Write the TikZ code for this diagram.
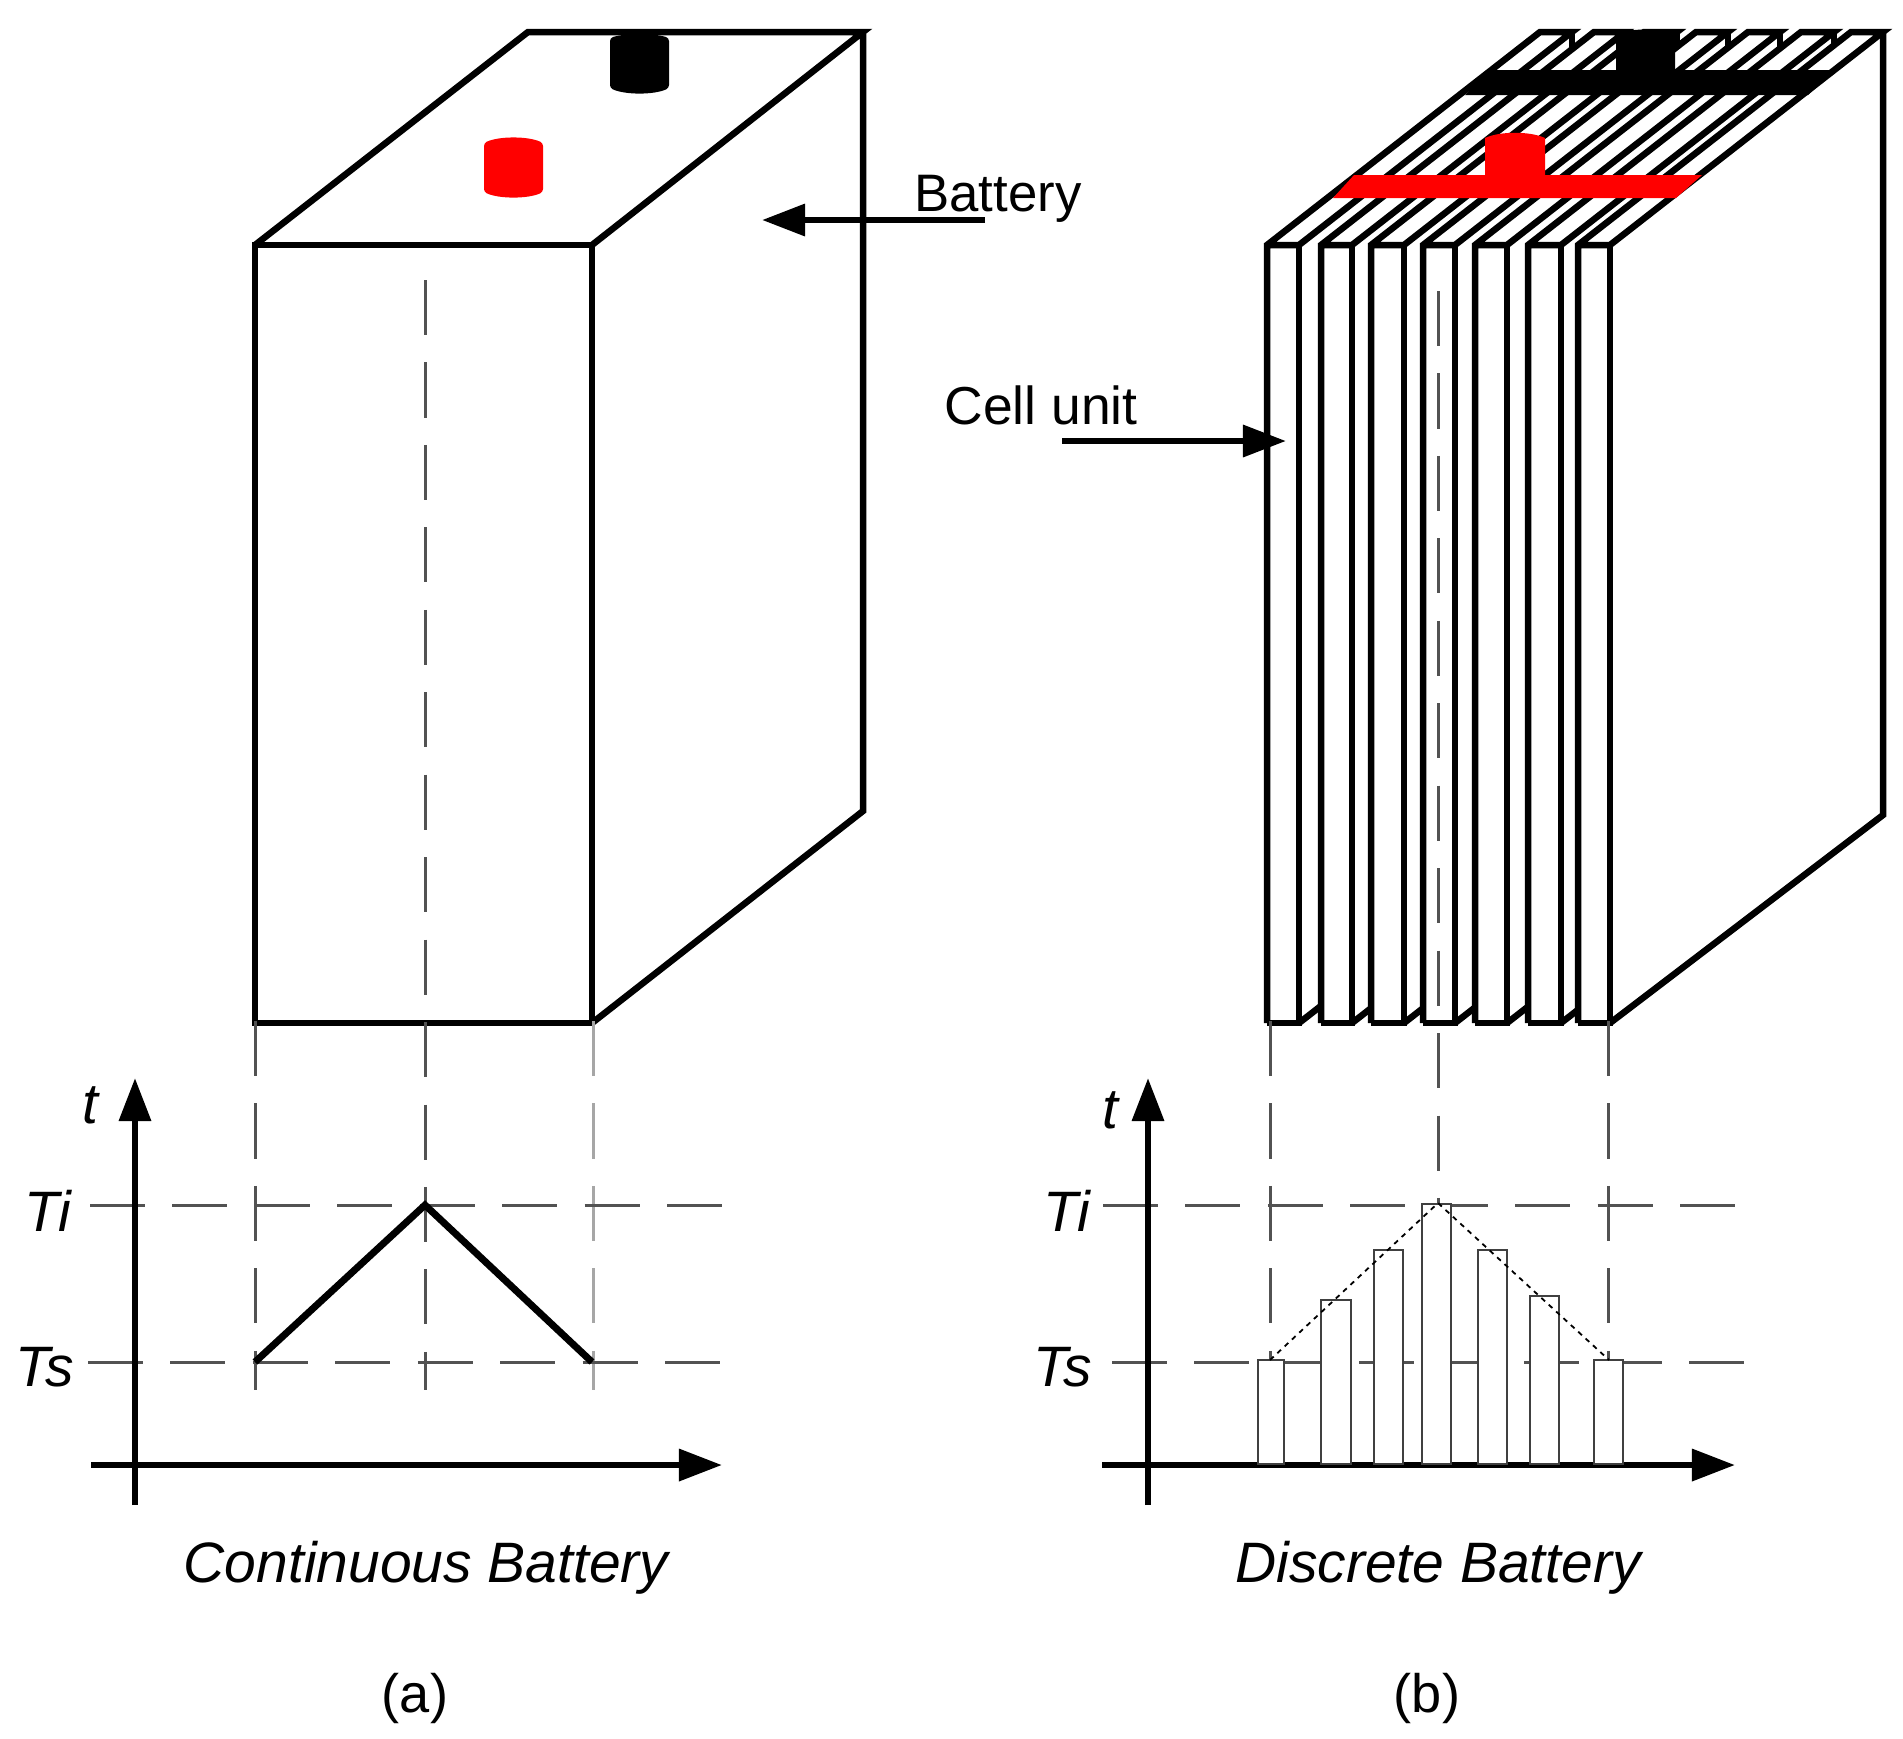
\documentclass[tikz,border=0pt]{standalone}
\usepackage{fontspec}
\setmainfont{Liberation Sans}
\usetikzlibrary{arrows.meta}
\tikzset{
  edge/.style={line width=.065cm, line join=miter},
  guide/.style={line width=.03cm, draw=black!68, dash pattern=on .55cm off .274cm},
  guidelight/.style={guide, draw=black!35},
  axis/.style={line width=.065cm, -{Triangle[length=.43cm, width=.31cm]}},
  bar/.style={line width=.028cm, draw=black!75, fill=white},
  peak/.style={line width=.07cm, line join=miter},
  lbl/.style={font=\fontsize{16.2}{19}\selectfont, inner sep=0},
  lblit/.style={lbl, font=\fontsize{16.2}{19}\selectfont\itshape},
  sub/.style={lbl, font=\fontsize{15.4}{19}\selectfont},
}
\begin{document}
\begin{tikzpicture}[x=.01cm, y=-.01cm]
\useasboundingbox (0,0) rectangle (1903,1738);
% continuous battery
\draw[edge] (255,245)--(592,245)--(592,1023)--(255,1023)--cycle;
\draw[edge] (255,245)--(528,32)--(863,32)--(592,245) (863,32)--(863,811)--(592,1023);
\fill[rounded corners=.03cm] (610,38) .. controls (625,33) and (654,33) .. (669,38)--(669,88) .. controls (654,95) and (625,95) .. (610,88)--cycle;
\fill[red, rounded corners=.03cm] (484,143) .. controls (499,136) and (528,136) .. (543,143)--(543,192) .. controls (528,199) and (499,199) .. (484,192)--cycle;
\draw[guide] (425,280)--(425,1390);
\draw[guide] (255,1021)--(255,1390);
\draw[guidelight] (593,1021)--(593,1390);
\draw[guide] (90,1205)--(725,1205);
\draw[guide] (88,1362)--(725,1362);
\draw[axis] (135,1505)--(135,1078);
\draw[axis] (91,1465)--(722,1465);
\draw[peak] (255,1362)--(425,1205)--(592,1362);
\node[lblit] (ta) at (90,1105) {t};
\node[lblit] (tia) at (48,1211) {Ti};
\node[lblit] (tsa) at (45,1367) {Ts};
\node[lblit] (capa) at (426,1568) {Continuous Battery};
\node[sub] (suba) at (415,1698) {(a)};
\node[lbl, font=\fontsize{15}{19}\selectfont] (battery) at (998,199) {Battery};
\coordinate (batfrom) at (985,220);
\coordinate (batto) at (762,220);
\draw[axis] (batfrom)--(batto);
% discrete battery
\foreach \xl/\xr/\xn in {1267/1299/1321, 1321/1352/1371, 1371/1404/1423, 1423/1455/1475, 1475/1507/1528, 1528/1561/1578}{
  \draw[edge] ({\xr+273},32)--({\xr+273},{32+(\xn-\xr)*.78});
  \draw[edge] (\xr,1023)--(\xn,{1023-(\xn-\xr)*.78});
}
\foreach \xl/\xr in {1267/1299, 1321/1352, 1371/1404, 1423/1455, 1475/1507, 1528/1561, 1578/1610}{
  \draw[edge] (\xl,1023)--(\xl,245)--({\xl+273},32)--({\xr+273},32)--(\xr,245)--(\xl,245);
  \draw[edge] (\xr,245)--(\xr,1023)--(\xl,1023);
}
\draw[edge] (1883,32)--(1883,815)--(1610,1023);
\fill (1490,70)--(1835,70)--(1808,95)--(1465,95)--cycle;
\fill (1616,34) .. controls (1630,28) and (1660,28) .. (1675,34)--(1675,80)--(1616,80)--cycle;
\fill[red] (1354,175)--(1702,175)--(1676,198)--(1333,198)--cycle;
\fill[red] (1485,138) .. controls (1500,131) and (1530,131) .. (1545,138)--(1545,180)--(1485,180)--cycle;
\draw[guide] (1438,291)--(1438,1390);
\draw[guide] (1270,1021)--(1270,1390);
\draw[guide] (1608,1021)--(1608,1390);
\draw[guide] (1103,1205)--(1740,1205);
\draw[guide] (1112,1362)--(1748,1362);
\draw[axis] (1148,1505)--(1148,1078);
\draw[axis] (1102,1465)--(1735,1465);
\foreach \xa/\xb/\ytop in {1258/1284/1360, 1321/1351/1300, 1374/1403/1250, 1422/1451/1204, 1478/1507/1250, 1530/1559/1296, 1594/1623/1360}{
  \draw[bar] (\xa,1464) rectangle (\xb,\ytop);
}
\draw[line width=.018cm, dash pattern=on .05cm off .05cm] (1270,1360)--(1438,1203)--(1609,1360);
\node[lblit] (tb) at (1110,1110) {t};
\node[lblit] (tib) at (1067,1211) {Ti};
\node[lblit] (tsb) at (1063,1367) {Ts};
\node[lblit] (capb) at (1438,1568) {Discrete Battery};
\node[sub] (subb) at (1427,1698) {(b)};
\node[lbl, font=\fontsize{15.2}{19}\selectfont] (cell) at (1041,405) {Cell unit};
\coordinate (cellfrom) at (1062,441);
\coordinate (cellto) at (1286,441);
\draw[axis] (cellfrom)--(cellto);
\end{tikzpicture}
\end{document}
